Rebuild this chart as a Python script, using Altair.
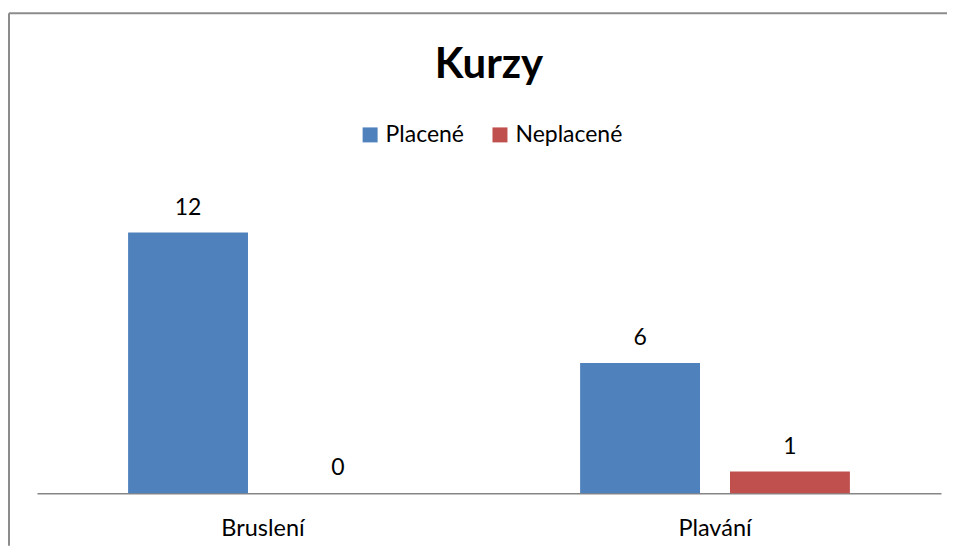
import altair as alt
import pandas as pd

categories = ["Bruslení", "Plavání"]
series = ["Placené", "Neplacené"]
placene = [12, 6]
neplacene = [0, 1]
colors = ["#4F81BD", "#C0504D"]
chart_title = ["Kurzy"]

rows = []
for i, c in enumerate(categories):
    rows.append({"kurz": c, "typ": series[0], "pocet": placene[i]})
    rows.append({"kurz": c, "typ": series[1], "pocet": neplacene[i]})
df = pd.DataFrame(rows)

FONT = "Lato"
W, H = 905, 304.5

x = alt.X("kurz:N", sort=categories, title=None,
          scale=alt.Scale(paddingInner=0, paddingOuter=0),
          axis=alt.Axis(domainColor="#868686", domainWidth=1.5, ticks=False,
                        labelAngle=0, labelFontSize=23.5, labelColor="#000000",
                        labelFont=FONT, labelPadding=23, labelFontWeight="normal"))
xo = alt.XOffset("typ:N", sort=series,
                 scale=alt.Scale(paddingInner=0.2, paddingOuter=0.608))
y = alt.Y("pocet:Q", scale=alt.Scale(domain=[0, 14]), axis=None)
color = alt.Color("typ:N", sort=series,
                  scale=alt.Scale(domain=series, range=colors),
                  legend=alt.Legend(title=None, orient="none", direction="horizontal",
                                    legendX=322, legendY=-66,
                                    symbolType="square", symbolSize=225,
                                    symbolStrokeWidth=0, symbolOpacity=1,
                                    labelFontSize=23, labelFont=FONT,
                                    labelColor="#000000", columnPadding=24,
                                    labelOffset=4))

base = alt.Chart(df)
bars = base.mark_bar(opacity=1).encode(x=x, xOffset=xo, y=y, color=color)
labels = base.mark_text(dy=-18, baseline="alphabetic", fontSize=23, font=FONT,
                        color="#000000").encode(x=x, xOffset=xo, y=y,
                                                 text=alt.Text("pocet:Q"))

title_df = pd.DataFrame({"t": chart_title})
title = alt.Chart(title_df).mark_text(fontSize=42, font=FONT, fontWeight="bold",
                                      color="#000000", baseline="alphabetic",
                                      align="center").encode(
    x=alt.value(W / 2), y=alt.value(-111.5), text="t:N")

frame_df = pd.DataFrame({"k": [0]})
left_line = alt.Chart(frame_df).mark_rule(color="#8c8c8c", strokeWidth=2).encode(
    x=alt.value(-28), y=alt.value(-176), y2=alt.value(357))
top_line = alt.Chart(frame_df).mark_rule(color="#8c8c8c", strokeWidth=2).encode(
    x=alt.value(-28), x2=alt.value(911), y=alt.value(-176))

chart = alt.layer(left_line, top_line, title, bars, labels).properties(
    width=W, height=H,
    padding={"left": 0, "top": 4, "right": 0, "bottom": 0},
).configure_view(stroke=None)

chart.save("out.html", embed_options={"renderer": "svg", "actions": False})
